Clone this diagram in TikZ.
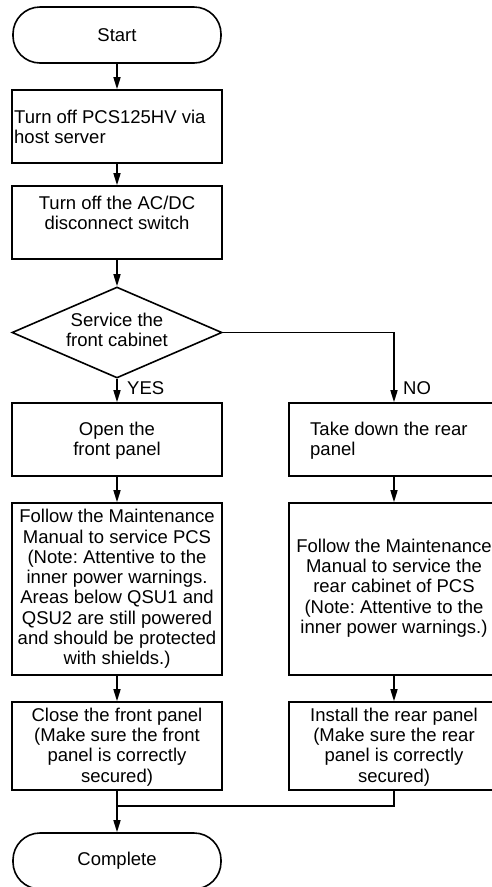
\documentclass[tikz,border=0pt]{standalone}
\usepackage{fontspec}
\setmainfont{Liberation Sans}
\usetikzlibrary{shapes.geometric,arrows.meta}
\frenchspacing
\begin{document}
\begin{tikzpicture}[x=1pt,y=-1pt,
  every node/.style={font=\fontsize{18.5}{20.3}\selectfont},
  box/.style={draw, line width=1.6pt, minimum width=210pt, inner sep=0pt},
  term/.style={draw, line width=1.6pt, rounded corners=27pt, minimum width=208pt, minimum height=56pt},
  dec/.style={diamond, draw, line width=1.6pt, minimum width=210pt, minimum height=91pt, inner sep=0pt},
  txt/.style={align=center, inner sep=0pt},
  lbl/.style={anchor=west, inner sep=0pt},
  conn/.style={line width=1.5pt, -{Triangle[length=12pt,width=7pt]}},
  plainline/.style={line width=1.5pt}]
\useasboundingbox (0,0) rectangle (492,887);

\node[term] (start) at (117,35) {Start};
\node[box, minimum height=73pt] (b1) at (117,126.5) {};
\node[txt, align=left, anchor=west] (t1) at (14,127) {Turn off PCS125HV via\\host server};
\node[box, minimum height=73pt] (b2) at (117,222.5) {};
\node[txt] (t2) at (117,213) {Turn off the AC/DC\\disconnect switch};
\node[dec] (dec) at (117,332.5) {};
\node[txt] (tdec) at (117,330) {Service the\\front cabinet};

\node[box, minimum height=73pt] (b3l) at (117,439.5) {};
\node[txt] (t3l) at (117,441) {Open the\\front panel};
\node[box, minimum height=73pt] (b3r) at (394,439.5) {};
\node[txt, align=left, anchor=west] (t3r) at (310,441) {Take down the rear\\panel};

\node[box, minimum height=172pt] (b4l) at (117,589) {};
\node[txt] (t4l) at (117,589) {Follow the Maintenance\\Manual to service PCS\\(Note: Attentive to the\\inner power warnings.\\Areas below QSU1 and\\QSU2 are still powered\\and should be protected\\with shields.)};
\node[box, minimum height=172pt] (b4r) at (394,589) {};
\node[txt] (t4r) at (394,588) {Follow the Maintenance\\Manual to service the\\rear cabinet of PCS\\(Note: Attentive to the\\inner power warnings.)};

\node[box, minimum height=88pt] (b5l) at (117,746) {};
\node[txt] (t5l) at (117,747) {Close the front panel\\(Make sure the front\\panel is correctly\\secured)};
\node[box, minimum height=88pt] (b5r) at (394,746) {};
\node[txt] (t5r) at (394,747) {Install the rear panel\\(Make sure the rear\\panel is correctly\\secured)};

\node[term] (comp) at (117,861) {Complete};
\coordinate (join) at (117,806);

\draw[conn] (start) -- (b1);
\draw[conn] (b1) -- (b2);
\draw[conn] (b2) -- (dec);
\draw[conn] (dec) -- (b3l);
\node[lbl] (yes) at (127,388) {YES};
\draw[conn] (dec.east) -| (b3r.north);
\node[lbl] (no) at (403,388) {NO};
\draw[conn] (b3l) -- (b4l);
\draw[conn] (b3r) -- (b4r);
\draw[conn] (b4l) -- (b5l);
\draw[conn] (b4r) -- (b5r);
\draw[conn] (b5l) -- (comp);
\draw[plainline] (b5r.south) |- (join);
\end{tikzpicture}
\end{document}
